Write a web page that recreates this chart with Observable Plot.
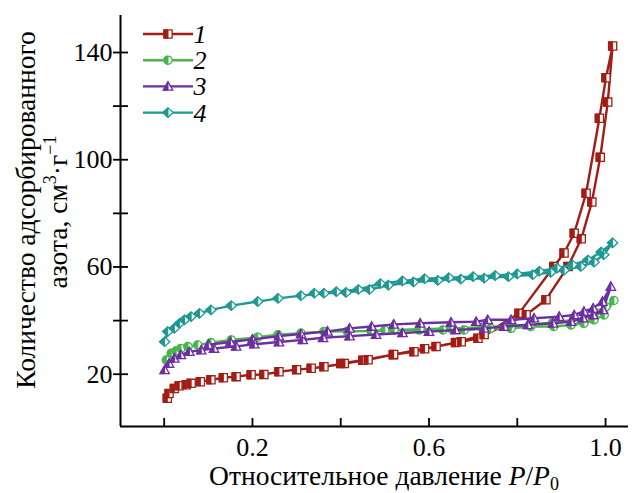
<!DOCTYPE html>
<html><head><meta charset="utf-8">
<script src="https://cdn.jsdelivr.net/npm/d3@7"></script>
<script src="https://cdn.jsdelivr.net/npm/@observablehq/plot@0.6"></script>
<style>
html,body{margin:0;padding:0;background:#fff;}
#chart{position:relative;width:636px;height:493px;}
</style></head><body><div id="chart"></div>
<script>
// ---- data ----
const seriesNames = ["1", "2", "3", "4"];
const seriesColors = ["#a21d16", "#46b64b", "#6c2f9f", "#1e9892"];

// series 1 (adsorption then desorption)
const s1AdsX = [0.007,0.011,0.023,0.034,0.05,0.061,0.082,0.106,0.134,0.163,0.197,0.226,0.26,0.30,0.333,0.362,0.408,0.462,0.519,0.566,0.616,0.673,0.711,0.82,0.865,0.915,0.945,0.969,0.988,1.005,1.016];
const s1AdsY = [11.0,12.8,14.7,15.7,16.1,16.6,17.2,17.9,18.7,19.1,19.8,19.9,20.9,21.7,22.2,22.8,24.0,25.4,27.3,28.4,30.3,32.1,33.4,42.2,47.8,60.2,70.5,84.2,100.9,121.5,142.4];
const s1DesX = [1.001,0.986,0.956,0.929,0.906,0.883,0.804,0.725,0.66,0.59,0.52,0.45,0.40];
const s1DesY = [130.6,115.5,87.5,72.6,65.2,60.2,42.7,34.8,31.8,29.5,27.4,25.2,24.0];

// series 2
const s2AdsX = [0.005,0.016,0.027,0.038,0.054,0.076,0.106,0.152,0.212,0.258,0.31,0.362,0.415,0.469,0.521,0.578,0.632,0.68,0.74,0.786,0.831,0.883,0.922,0.951,0.974,0.997,1.019];
const s2AdsY = [25.3,27.8,28.7,29.6,30.3,30.9,31.8,32.8,33.8,34.7,35.3,35.9,36.0,36.1,36.5,36.5,36.5,36.5,37.1,37.1,37.8,37.8,38.4,39.0,40.3,42.1,47.5];
const s2DesX = [1.001,0.983,0.956,0.929,0.88,0.83,0.78,0.72,0.65,0.58,0.50];
const s2DesY = [45.2,42.7,41.1,40.3,39.2,38.6,38.0,37.5,37.1,36.8,36.4];

// series 3
const s3AdsX = [0.001,0.011,0.023,0.038,0.057,0.084,0.113,0.163,0.204,0.26,0.314,0.36,0.42,0.48,0.54,0.60,0.66,0.725,0.77,0.824,0.881,0.922,0.949,0.972,0.994,1.012];
const s3AdsY = [21.6,24.0,25.9,27.2,28.4,29.0,29.6,30.4,31.2,32.0,32.8,33.6,34.2,34.8,35.4,35.9,36.5,37.1,37.8,38.4,39.0,39.6,40.9,42.1,44.0,52.7];
const s3DesX = [0.993,0.972,0.951,0.929,0.895,0.838,0.786,0.733,0.707,0.65,0.58,0.52,0.47,0.42,0.37,0.31,0.26,0.20,0.15,0.10];
const s3DesY = [47.1,44.6,43.4,42.1,41.5,40.9,40.3,40.3,39.6,39.4,39.0,38.6,37.8,37.1,36.0,35.0,34.2,33.0,32.0,31.0];

// series 4
const s4AdsX = [0.001,0.008,0.023,0.035,0.046,0.061,0.08,0.106,0.152,0.212,0.258,0.31,0.362,0.412,0.465,0.508,0.565,0.62,0.672,0.725,0.78,0.835,0.876,0.906,0.944,0.974,0.996,1.016];
const s4AdsY = [32.1,35.9,37.1,39.0,40.3,41.5,42.7,44.0,45.6,47.1,48.3,49.3,50.2,50.5,51.6,53.2,54.4,55.0,55.5,55.8,56.4,57.1,58.0,58.8,60.2,61.8,64.6,69.0];
const s4DesX = [0.99,0.96,0.925,0.89,0.85,0.80,0.75,0.70,0.645,0.59,0.54,0.49,0.44,0.39,0.34];
const s4DesY = [65.6,62.6,60.8,59.6,58.4,57.4,56.8,56.4,56.0,55.6,54.8,53.8,51.6,50.8,50.2];

// axes
const xDomain = [-0.099, 1.052];
const yDomain = [0.5, 153.8];
const xTicks = [0, 0.2, 0.4, 0.6, 0.8, 1.0];
const xTickLabels = [0.2, 0.6, 1.0];
const yTicks = [20, 40, 60, 80, 100, 120, 140];
const yTickLabels = [20, 60, 100, 140];
const xTitle = "Относительное давление ";
const yTitle1 = "Количество адсорбированного";
const yTitle2 = "азота, см";

// ---- half-filled symbols ----
const R = (s) => Math.sqrt(s / Math.PI);
const squareFull = {draw(c, s) { const r = R(s); c.rect(-r, -r, 2 * r, 2 * r); }};
const squareHalf = {draw(c, s) { const r = R(s); c.rect(-r, -r, r, 2 * r); }};
const circleFull = {draw(c, s) { const r = R(s); c.moveTo(r, 0); c.arc(0, 0, r, 0, 2 * Math.PI); }};
const circleHalf = {draw(c, s) { const r = R(s); c.moveTo(0, -r); c.arc(0, 0, r, -Math.PI / 2, Math.PI / 2, true); c.closePath(); }};
const triFull = {draw(c, s) { const r = R(s) * 1.15; c.moveTo(0, -r); c.lineTo(r, 0.8 * r); c.lineTo(-r, 0.8 * r); c.closePath(); }};
const triHalf = {draw(c, s) { const r = R(s) * 1.15; c.moveTo(0, -r); c.lineTo(0, 0.8 * r); c.lineTo(-r, 0.8 * r); c.closePath(); }};
const diaFull = {draw(c, s) { const r = R(s) * 1.15; c.moveTo(0, -r); c.lineTo(1.1 * r, 0); c.lineTo(0, r); c.lineTo(-1.1 * r, 0); c.closePath(); }};
const diaHalf = {draw(c, s) { const r = R(s) * 1.15; c.moveTo(0, -r); c.lineTo(0, r); c.lineTo(-1.1 * r, 0); c.closePath(); }};
const fullSymbols = [squareFull, circleFull, triFull, diaFull];
const halfSymbols = [squareHalf, circleHalf, triHalf, diaHalf];

const rows = (ax, ay, dx, dy) => ax.map((x, i) => ({x, y: ay[i]})).concat(dx.map((x, i) => ({x, y: dy[i]})));
const allSeries = [
  rows(s1AdsX, s1AdsY, s1DesX, s1DesY),
  rows(s2AdsX, s2AdsY, s2DesX, s2DesY),
  rows(s3AdsX, s3AdsY, s3DesX, s3DesY),
  rows(s4AdsX, s4AdsY, s4DesX, s4DesY)
];

const font = "'Liberation Serif', 'Times New Roman', serif";
const dotR = 4.1;
const marks = [];
allSeries.forEach((data, i) => {
  marks.push(Plot.line(data, {x: "x", y: "y", stroke: seriesColors[i], strokeWidth: 2.4}));
  marks.push(Plot.dot(data, {x: "x", y: "y", symbol: fullSymbols[i], r: dotR, fill: "white", stroke: seriesColors[i], strokeWidth: 1.3}));
  marks.push(Plot.dot(data, {x: "x", y: "y", symbol: halfSymbols[i], r: dotR, fill: seriesColors[i], stroke: seriesColors[i], strokeWidth: 1}));
});

const svg = Plot.plot({
  width: 636, height: 493,
  marginLeft: 120, marginRight: 8, marginTop: 15, marginBottom: 67,
  style: {fontFamily: font, fontSize: "26px", color: "#000", background: "#fff"},
  x: {domain: xDomain},
  y: {domain: yDomain},
  marks: [
    ...marks,
    Plot.ruleX([xDomain[0]], {stroke: "#000", strokeWidth: 2}),
    Plot.ruleY([yDomain[0]], {stroke: "#000", strokeWidth: 2}),
    Plot.axisY({ticks: yTicks, tickSize: 15, dx: 8, fill: "none", label: null, strokeWidth: 1.8}),
    Plot.axisY({ticks: yTickLabels, tickSize: 0, tickPadding: 8, label: null, fontSize: 26}),
    Plot.axisX({ticks: xTicks, tickSize: 8, dy: -8, fill: "none", label: null, strokeWidth: 1.8}),
    Plot.axisX({ticks: xTickLabels, tickSize: 0, tickPadding: 11, tickFormat: d3.format(".1f"), label: null, fontSize: 26})
  ]
});
document.getElementById("chart").appendChild(svg);

const s = d3.select(svg);
// y title
const yt = s.append("g").attr("font-family", font).attr("font-size", 27.5).attr("fill", "#000")
  .attr("transform", "rotate(-90)").attr("text-anchor", "middle");
yt.append("text").attr("x", -210).attr("y", 35).text(yTitle1);
const l2 = yt.append("text").attr("x", -212).attr("y", 67);
l2.append("tspan").text(yTitle2);
l2.append("tspan").attr("font-size", 18).attr("dy", -11).text("3");
l2.append("tspan").attr("dy", 11).text("·г");
l2.append("tspan").attr("font-size", 18).attr("dy", -11).text("−1");
// x title
const xt = s.append("text").attr("font-family", font).attr("font-size", 27.5).attr("fill", "#000")
  .attr("x", 384).attr("y", 485).attr("text-anchor", "middle");
xt.append("tspan").text(xTitle);
xt.append("tspan").attr("font-style", "italic").text("P");
xt.append("tspan").text("/");
xt.append("tspan").attr("font-style", "italic").text("P");
xt.append("tspan").attr("font-size", 18).attr("dy", 5).text("0");

// legend
const lg = s.append("g");
seriesNames.forEach((name, i) => {
  const y = 34 + i * 26.2;
  lg.append("line").attr("x1", 143).attr("x2", 193).attr("y1", y).attr("y2", y)
    .attr("stroke", seriesColors[i]).attr("stroke-width", 2.4);
  const size = Math.PI * dotR * dotR;
  lg.append("path").attr("transform", `translate(168,${y})`).attr("d", d3.symbol(fullSymbols[i], size)())
    .attr("fill", "white").attr("stroke", seriesColors[i]).attr("stroke-width", 1.3);
  lg.append("path").attr("transform", `translate(168,${y})`).attr("d", d3.symbol(halfSymbols[i], size)())
    .attr("fill", seriesColors[i]).attr("stroke", seriesColors[i]).attr("stroke-width", 1);
  lg.append("text").attr("x", 200).attr("y", y + 9).attr("font-family", font).attr("font-size", 26)
    .attr("font-style", "italic").attr("fill", "#000").text(name);
});
</script></body></html>
